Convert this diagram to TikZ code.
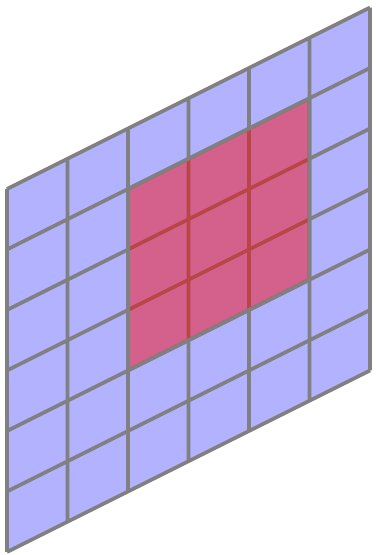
\documentclass[tikz,border=0pt]{standalone}
\begin{document}
\begin{tikzpicture}[line width=1.7pt]
\useasboundingbox (-0.116,-0.05) rectangle (6.083,9.124);
\begin{scope}[cm={1,0.5,0,1,(0,0)}]
\fill[blue!30] (0,0) rectangle (6,6);
\draw[gray] (0,0) grid (6,6);
\fill[red,opacity=0.45] (2,2) rectangle (5,5);
\draw[gray] (2,2) rectangle (5,5);
\end{scope}
\end{tikzpicture}
\end{document}
